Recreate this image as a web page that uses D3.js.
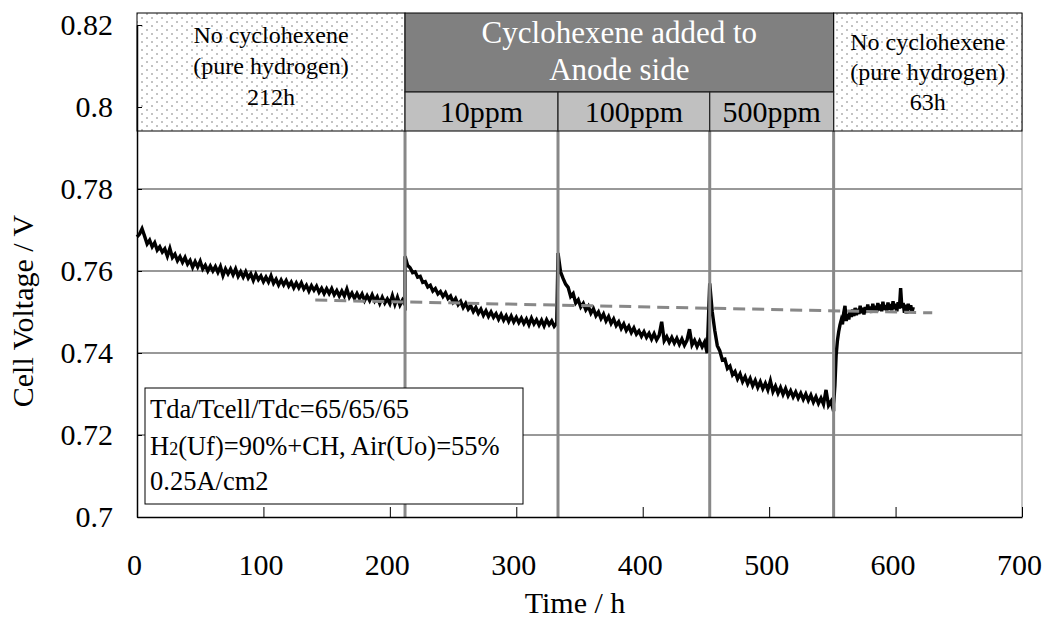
<!DOCTYPE html>
<html>
<head>
<meta charset="utf-8">
<script src="https://cdn.jsdelivr.net/npm/d3@7"></script>
<style>
  body { margin: 0; background: #fff; }
</style>
</head>
<body>
<svg id="chart" width="1045" height="619"></svg>
<script>
// cell voltage, one array per phase
const segmentStarts = [0, 212, 333, 453, 551];
const segmentSteps = [2, 2, 2, 2, 1];

const seg1Volts = [
  0.7683, 0.7690, 0.7703, 0.7685, 0.7666, 0.7675, 0.7659, 0.7669, 0.7651, 0.7659,
  0.7646, 0.7654, 0.7636, 0.7655, 0.7633, 0.7641, 0.7625, 0.7635, 0.7621, 0.7633,
  0.7617, 0.7626, 0.7609, 0.7623, 0.7610, 0.7624, 0.7605, 0.7614, 0.7600, 0.7612,
  0.7600, 0.7611, 0.7597, 0.7611, 0.7589, 0.7605, 0.7593, 0.7605, 0.7591, 0.7605,
  0.7587, 0.7598, 0.7585, 0.7598, 0.7583, 0.7593, 0.7577, 0.7592, 0.7579, 0.7588,
  0.7574, 0.7585, 0.7573, 0.7588, 0.7570, 0.7580, 0.7566, 0.7578, 0.7566, 0.7577,
  0.7563, 0.7573, 0.7559, 0.7571, 0.7559, 0.7571, 0.7556, 0.7565, 0.7551, 0.7564,
  0.7553, 0.7563, 0.7548, 0.7558, 0.7545, 0.7557, 0.7545, 0.7557, 0.7542, 0.7552,
  0.7539, 0.7551, 0.7539, 0.7556, 0.7536, 0.7546, 0.7533, 0.7545, 0.7533, 0.7544,
  0.7528, 0.7540, 0.7528, 0.7542, 0.7527, 0.7537, 0.7521, 0.7536, 0.7522, 0.7532,
  0.7520, 0.7540, 0.7519, 0.7536, 0.7517, 0.7529, 0.7518
];
const seg2Volts = [
  0.7636, 0.7614, 0.7608, 0.7596, 0.7598, 0.7585, 0.7587, 0.7572, 0.7574, 0.7561,
  0.7565, 0.7551, 0.7557, 0.7544, 0.7550, 0.7538, 0.7547, 0.7533, 0.7539, 0.7524,
  0.7533, 0.7518, 0.7526, 0.7511, 0.7521, 0.7507, 0.7515, 0.7501, 0.7511, 0.7497,
  0.7507, 0.7492, 0.7503, 0.7489, 0.7500, 0.7487, 0.7496, 0.7482, 0.7494, 0.7480,
  0.7491, 0.7477, 0.7490, 0.7476, 0.7487, 0.7474, 0.7485, 0.7472, 0.7483, 0.7469,
  0.7485, 0.7471, 0.7481, 0.7468, 0.7480, 0.7466, 0.7481, 0.7469, 0.7478, 0.7465,
  0.7473
];
const seg3Volts = [
  0.7644, 0.7598, 0.7582, 0.7568, 0.7560, 0.7538, 0.7545, 0.7522, 0.7530, 0.7512,
  0.7521, 0.7505, 0.7514, 0.7497, 0.7508, 0.7491, 0.7500, 0.7484, 0.7495, 0.7478,
  0.7489, 0.7472, 0.7483, 0.7467, 0.7476, 0.7460, 0.7471, 0.7455, 0.7465, 0.7450,
  0.7461, 0.7446, 0.7454, 0.7441, 0.7452, 0.7438, 0.7448, 0.7434, 0.7447, 0.7432,
  0.7443, 0.7476, 0.7430, 0.7440, 0.7426, 0.7438, 0.7424, 0.7436, 0.7421, 0.7434,
  0.7419, 0.7431, 0.7458, 0.7420, 0.7431, 0.7416, 0.7429, 0.7415, 0.7427, 0.7400
];
const seg4Volts = [
  0.7570, 0.7500, 0.7455, 0.7418, 0.7405, 0.7383, 0.7385, 0.7362, 0.7368, 0.7347,
  0.7355, 0.7337, 0.7349, 0.7330, 0.7342, 0.7325, 0.7338, 0.7320, 0.7333, 0.7316,
  0.7330, 0.7313, 0.7326, 0.7310, 0.7332, 0.7306, 0.7319, 0.7302, 0.7316, 0.7299,
  0.7313, 0.7296, 0.7308, 0.7293, 0.7305, 0.7290, 0.7302, 0.7287, 0.7300, 0.7284,
  0.7297, 0.7280, 0.7293, 0.7277, 0.7290, 0.7275, 0.7310, 0.7272, 0.7282, 0.7258
];
const seg5Volts = [
  0.7275, 0.7320, 0.7395, 0.7430, 0.7452, 0.7468, 0.7480, 0.7470, 0.7498, 0.7515,
  0.7478, 0.7495, 0.7482, 0.7503, 0.7488, 0.7506, 0.7490, 0.7510, 0.7492, 0.7508,
  0.7495, 0.7515, 0.7497, 0.7510, 0.7494, 0.7512, 0.7498, 0.7518, 0.7500, 0.7513,
  0.7498, 0.7520, 0.7502, 0.7515, 0.7500, 0.7522, 0.7504, 0.7518, 0.7502, 0.7525,
  0.7505, 0.7517, 0.7503, 0.7523, 0.7506, 0.7519, 0.7504, 0.7526, 0.7507, 0.7520,
  0.7502, 0.7524, 0.7508, 0.7558, 0.7510, 0.7522, 0.7498, 0.7518, 0.7496, 0.7520,
  0.7505, 0.7516, 0.7500, 0.7512
];
const segments = [seg1Volts, seg2Volts, seg3Volts, seg4Volts, seg5Volts];

// dashed reference line
const trendTimes = [141, 629];
const trendVolts = [0.7529, 0.7498];

// phase boundaries (h) and the header boxes
const phaseBounds = [212, 333, 453, 551];
const ppmLabels = ["10ppm", "100ppm", "500ppm"];
const leftBoxLines = ["No cyclohexene", "(pure hydrogen)", "212h"];
const rightBoxLines = ["No cyclohexene", "(pure hydrogen)", "63h"];
const headerLines = ["Cyclohexene added to", "Anode side"];

const xTicks = [0, 100, 200, 300, 400, 500, 600, 700];
const yTicks = [0.7, 0.72, 0.74, 0.76, 0.78, 0.8, 0.82];
const gridValues = [0.72, 0.74, 0.76, 0.78, 0.8];

const SERIF = "'Liberation Serif', 'Times New Roman', Tinos, 'DejaVu Serif', serif";

const points = [];
segments.forEach((vals, s) => {
  vals.forEach((v, i) => {
    points.push({ t: segmentStarts[s] + i * segmentSteps[s], v: v });
  });
});

const svg = d3.select("#chart").attr("font-family", SERIF);

const x = d3.scaleLinear().domain([0, 700]).range([137, 1022]);
const y = d3.scaleLinear().domain([0.7, 0.82]).range([517, 25]);

const boxTop = 13, boxMid = 92, boxBot = 131;

// dotted fill
const defs = svg.append("defs");
const pat = defs.append("pattern")
  .attr("id", "dots")
  .attr("patternUnits", "userSpaceOnUse")
  .attr("width", 10).attr("height", 8);
pat.append("rect").attr("width", 10).attr("height", 8).attr("fill", "#fff");
pat.append("circle").attr("cx", 2).attr("cy", 2).attr("r", 0.8).attr("fill", "#777");
pat.append("circle").attr("cx", 7).attr("cy", 6).attr("r", 0.8).attr("fill", "#777");

// grid
svg.append("g")
  .selectAll("line")
  .data(gridValues)
  .join("line")
  .attr("x1", x(0)).attr("x2", x(700))
  .attr("y1", d => y(d)).attr("y2", d => y(d))
  .attr("stroke", "#333")
  .attr("stroke-width", 1);

// right frame
svg.append("line")
  .attr("x1", x(700)).attr("x2", x(700))
  .attr("y1", boxTop).attr("y2", y(0.7))
  .attr("stroke", "#888");

// voltage trace
const line = d3.line().x(d => x(d.t)).y(d => y(d.v));
svg.append("path")
  .datum(points)
  .attr("d", line)
  .attr("fill", "none")
  .attr("stroke", "#000")
  .attr("stroke-width", 3.4)
  .attr("stroke-linejoin", "miter");

// phase separators
svg.append("g")
  .selectAll("line")
  .data(phaseBounds)
  .join("line")
  .attr("x1", d => x(d)).attr("x2", d => x(d))
  .attr("y1", boxBot).attr("y2", y(0.7))
  .attr("stroke", "#888")
  .attr("stroke-width", 3);

// dashed trend
svg.append("path")
  .datum(trendTimes.map((t, i) => ({ t: t, v: trendVolts[i] })))
  .attr("d", line)
  .attr("fill", "none")
  .attr("stroke", "#888")
  .attr("stroke-width", 3)
  .attr("stroke-dasharray", "12,7");

// header boxes
function boxText(lines, cx, y0, gap, size, color) {
  svg.append("text")
    .attr("text-anchor", "middle")
    .attr("font-family", SERIF)
    .attr("font-size", size)
    .attr("fill", color)
    .selectAll("tspan")
    .data(lines)
    .join("tspan")
    .attr("x", cx)
    .attr("y", (d, i) => y0 + i * gap)
    .text(d => d);
}

svg.append("rect")
  .attr("x", x(0)).attr("y", boxTop)
  .attr("width", x(phaseBounds[0]) - x(0)).attr("height", boxBot - boxTop)
  .attr("fill", "url(#dots)").attr("stroke", "#000");
boxText(leftBoxLines, (x(0) + x(phaseBounds[0])) / 2, 43, 31, 24, "#000");

svg.append("rect")
  .attr("x", x(phaseBounds[3])).attr("y", boxTop)
  .attr("width", x(700) - x(phaseBounds[3])).attr("height", boxBot - boxTop)
  .attr("fill", "url(#dots)").attr("stroke", "#000");
boxText(rightBoxLines, (x(phaseBounds[3]) + x(700)) / 2, 50, 30, 24, "#000");

svg.append("rect")
  .attr("x", x(phaseBounds[0])).attr("y", boxTop)
  .attr("width", x(phaseBounds[3]) - x(phaseBounds[0])).attr("height", boxMid - boxTop)
  .attr("fill", "#808080").attr("stroke", "#000");
boxText(headerLines, (x(phaseBounds[0]) + x(phaseBounds[3])) / 2, 43, 37, 31, "#fff");

ppmLabels.forEach((lab, i) => {
  const x0 = x(phaseBounds[i]), x1 = x(phaseBounds[i + 1]);
  svg.append("rect")
    .attr("x", x0).attr("y", boxMid)
    .attr("width", x1 - x0).attr("height", boxBot - boxMid)
    .attr("fill", "#c0c0c0").attr("stroke", "#222").attr("stroke-width", 1.2);
  boxText([lab], (x0 + x1) / 2, 122, 0, 30, "#000");
});

// conditions box
svg.append("rect")
  .attr("x", 145).attr("y", 388)
  .attr("width", 378).attr("height", 116)
  .attr("fill", "#fff").attr("stroke", "#000");
const info = svg.append("text")
  .attr("font-family", SERIF)
  .attr("font-size", 26.5)
  .attr("fill", "#000");
info.append("tspan").attr("x", 150).attr("y", 418).text("Tda/Tcell/Tdc=65/65/65");
const l2 = info.append("tspan").attr("x", 150).attr("y", 455).text("H");
l2.append("tspan").attr("font-size", 18).text("2");
l2.append("tspan").text("(Uf)=90%+CH, Air(Uo)=55%");
info.append("tspan").attr("x", 150).attr("y", 490).text("0.25A/cm2");

// axes
const xAxis = svg.append("g")
  .attr("transform", `translate(0, ${y(0.7)})`)
  .call(d3.axisBottom(x).tickValues(xTicks).tickSize(-10).tickSizeOuter(0).tickPadding(37));
xAxis.attr("font-family", SERIF);
xAxis.selectAll("text").attr("font-size", 30).attr("fill", "#000").attr("dx", -3);
xAxis.selectAll("line").attr("stroke", "#000");
xAxis.select(".domain").attr("stroke", "#000").attr("stroke-width", 1.5);

const yAxis = svg.append("g")
  .attr("transform", `translate(${x(0)}, 0)`)
  .call(d3.axisLeft(y).tickValues(yTicks).tickSize(-5).tickSizeOuter(0).tickPadding(24)
    .tickFormat(d => String(+d.toFixed(2))));
yAxis.attr("font-family", SERIF);
yAxis.selectAll("text").attr("font-size", 30).attr("fill", "#000");
yAxis.selectAll("line").attr("stroke", "#000");
yAxis.select(".domain").attr("stroke", "#000").attr("stroke-width", 1.5);

svg.append("text")
  .attr("x", 575).attr("y", 613)
  .attr("text-anchor", "middle")
  .attr("font-family", SERIF)
  .attr("font-size", 30)
  .text("Time / h");

svg.append("text")
  .attr("transform", "translate(33, 311) rotate(-90)")
  .attr("text-anchor", "middle")
  .attr("font-family", SERIF)
  .attr("font-size", 30)
  .text("Cell Voltage / V");
</script>
</body>
</html>
